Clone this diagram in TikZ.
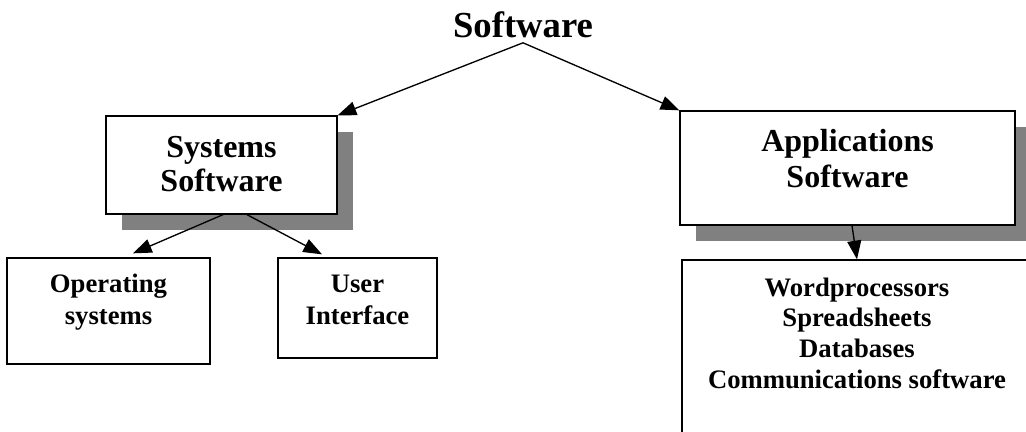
\documentclass[tikz,border=0pt]{standalone}
\usepackage{fontspec}
\setmainfont{Liberation Serif}
\usetikzlibrary{arrows.meta,shadows,calc}

\begin{document}
\begin{tikzpicture}[x=0.75pt,y=-0.75pt,
  box/.style={draw,line width=1pt,fill=white,inner sep=0pt},
  shadowbox/.style={box,drop shadow={shadow xshift=12pt,shadow yshift=-12pt,fill=black!50,opacity=1}},
  lbl/.style={font=\bfseries,align=center},
  arr/.style={-{Triangle[length=14pt,width=10.5pt]},line width=1pt}]
\path[use as bounding box,clip] (0,0) rectangle (1026,432);

%Top
\node[lbl,font=\bfseries\fontsize{27.5}{30}\selectfont] (soft) at (523,25) {Software};

%Second level
\node[shadowbox,minimum width=173.25pt,minimum height=73.5pt] (sys) at (221.5,165) {};
\node[lbl,font=\bfseries\fontsize{24}{26}\selectfont] (systxt) at (221.5,164) {Systems\\Software};
\node[shadowbox,minimum width=251.25pt,minimum height=85.5pt] (app) at (847.5,168) {};
\node[lbl,font=\bfseries\fontsize{24}{27}\selectfont] (apptxt) at (847.5,159) {Applications\\Software};
\draw[arr] (soft.south) -- (sys.north east);
\draw[arr] (soft.south) -- (app.north west);

%Third level
\node[box,minimum width=152.25pt,minimum height=79.5pt] (os) at (108.5,311) {};
\node[lbl,font=\bfseries\fontsize{20}{24}\selectfont] (ostxt) at (108.5,302) {Operating\\systems};
\node[box,minimum width=119.25pt,minimum height=75pt] (ui) at (357.5,308) {};
\node[lbl,font=\bfseries\fontsize{20}{24}\selectfont] (uitxt) at (357.5,300) {User\\Interface};
\node[box,minimum width=268.5pt,minimum height=138.75pt] (progs) at (861,352.5) {};
\node[lbl,font=\bfseries\fontsize{20}{23}\selectfont] (progstxt) at (857,333) {Wordprocessors\\Spreadsheets\\Databases\\Communications software};
\draw[arr] ($(sys.south)+(1.5,0)$) -- ($(os.north)+(24.5,-4)$);
\draw[arr] ($(sys.south)+(25.5,0)$) -- ($(ui.north)+(-35.5,-3)$);
\draw[arr] ($(app.south)+(4.5,0)$) -- ($(progs.north)+(-4,0)$);

\end{tikzpicture}
\end{document}
